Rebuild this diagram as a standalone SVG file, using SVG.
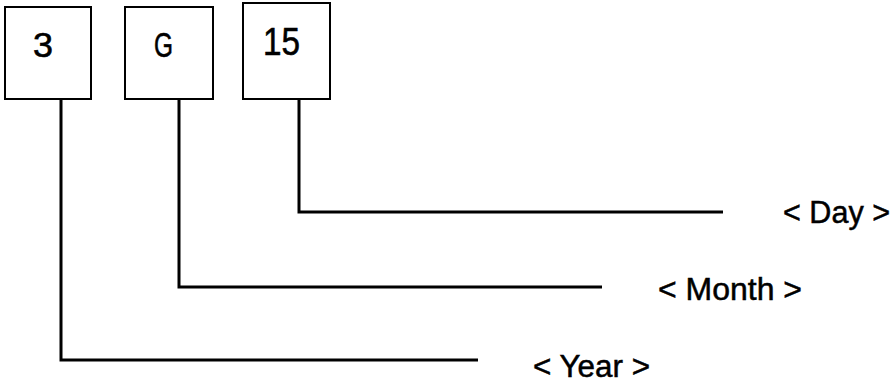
<svg xmlns="http://www.w3.org/2000/svg" width="896" height="385" viewBox="0 0 896 385">
<style>
.box{fill:#fff;stroke:#000;stroke-width:2}
.num{font-family:"Liberation Sans",Arial,sans-serif;fill:#000;stroke:#000;stroke-width:0.6}
.lbl{font-family:"Liberation Sans",Arial,sans-serif;font-size:31px;fill:#000;stroke:#000;stroke-width:0.5}
.conn{fill:none;stroke:#000;stroke-width:3}
</style>
<rect width="896" height="385" fill="#fff"/>
<g id="connectors">
<polyline class="conn" points="61,99 61,360 478,360"/>
<polyline class="conn" points="179,99 179,287 602,287"/>
<polyline class="conn" points="299,99 299,212 723,212"/>
</g>
<g id="node-year">
<rect class="box" x="5" y="7" width="86" height="92"/>
<text class="num" x="33" y="57" font-size="35" textLength="20" lengthAdjust="spacingAndGlyphs">3</text>
</g>
<g id="node-month">
<rect class="box" x="125" y="7" width="88" height="92"/>
<text class="num" x="154" y="57" font-size="35" textLength="19" lengthAdjust="spacingAndGlyphs">G</text>
</g>
<g id="node-day">
<rect class="box" x="243" y="3" width="87" height="96"/>
<text class="num" x="263" y="55" font-size="38" textLength="37" lengthAdjust="spacingAndGlyphs">15</text>
</g>
<g id="labels">
<text class="lbl" x="533" y="377" textLength="117" lengthAdjust="spacingAndGlyphs">&lt; Year &gt;</text>
<text class="lbl" x="658" y="300" textLength="144" lengthAdjust="spacingAndGlyphs">&lt; Month &gt;</text>
<text class="lbl" x="783" y="223" textLength="107" lengthAdjust="spacingAndGlyphs">&lt; Day &gt;</text>
</g>
</svg>
